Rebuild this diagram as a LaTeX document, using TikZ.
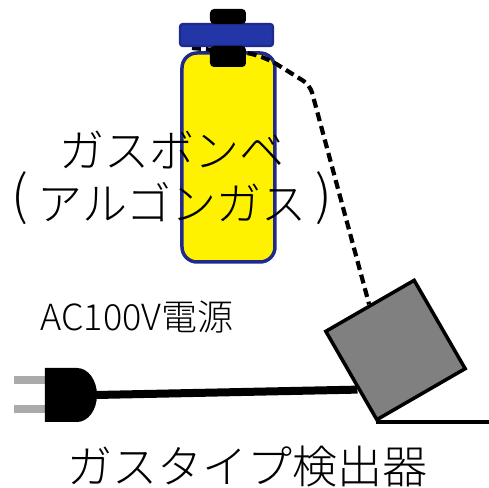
\documentclass[tikz,border=0pt]{standalone}
\usepackage{fontspec}
\IfFontExistsTF{Noto Sans CJK JP Light}
  {\setmainfont{Noto Sans CJK JP Light}}
  {\setmainfont{Noto Sans CJK JP}}
\usepackage{tikz}
\usetikzlibrary{calc}
\definecolor{bodyline}{HTML}{1F2A8C}
\definecolor{capblue}{HTML}{2236A8}
\definecolor{prong}{HTML}{AAAAAA}
\tikzstyle{bigtext} = [font=\fontsize{22.5}{26.5}\selectfont, inner sep=0pt, anchor=base]
\tikzstyle{smalltext} = [font=\fontsize{18}{21}\selectfont, inner sep=0pt]
\tikzstyle{tube} = [line width=2.1pt, dash pattern=on 4.5pt off 2.5pt, rounded corners=4pt]
\tikzstyle{cord} = [line width=4pt]
\tikzstyle{sensor} = [rectangle, draw=black, line width=1.75pt, fill=gray, minimum size=51pt, inner sep=0pt, rotate=30]
\newcommand{\lparen}{\raisebox{3pt}{\fontsize{26.5}{26.5}\selectfont (}}
\newcommand{\rparen}{\raisebox{3pt}{\fontsize{26.5}{26.5}\selectfont )}}

\begin{document}
\begin{tikzpicture}[x=0.5pt, y=0.5pt]
\useasboundingbox (0,0) rectangle (489,488);
% cylinder body
\draw[bodyline, fill=yellow, line width=1.75pt, rounded corners=7.5pt] (182,226) rectangle (275,435);
\node (detector) [sensor] at (395.5,138) {};
\coordinate (nozzle) at (192,440);
\coordinate (rightedge) at (489,0);
% gas tube
\draw[tube] (nozzle) -- (250,435) -- (270,428) -- (310,403) -- (detector.north);
% cap and valve
\draw[fill=capblue, draw=bodyline, line width=1.2pt, rounded corners=1.5pt] (180,442) rectangle (273,464);
\fill[rounded corners=2pt] (210,464) rectangle (246,479);
\fill[rounded corners=2pt] (210,421) rectangle (246,442);
% plug
\fill[prong] (14,104) rectangle (45,112);
\fill[prong] (14,75) rectangle (45,83);
\fill (45,120) -- (77,120) arc[start angle=90, end angle=-90, x radius=10pt, y radius=13.5pt] -- (45,66) -- cycle;
\coordinate (plug) at (96,93);
\draw[cord] (plug) -- ($(detector.west)!0.29!(detector.south west)$);
\draw[line width=1.75pt] (detector.south west) -- (detector.south west -| rightedge);
% labels
\node (cylname) [bigtext] at (172,320) {ガスボンベ};
\node (gasname) [bigtext] at (172,267) {\lparen\kern0.2emアルゴンガス\kern0.2em\rparen};
\node (power) [smalltext] at (137,171) {AC100V電源};
\node (detname) [bigtext, anchor=center] at (248,21) {ガスタイプ検出器};
\end{tikzpicture}
\end{document}
